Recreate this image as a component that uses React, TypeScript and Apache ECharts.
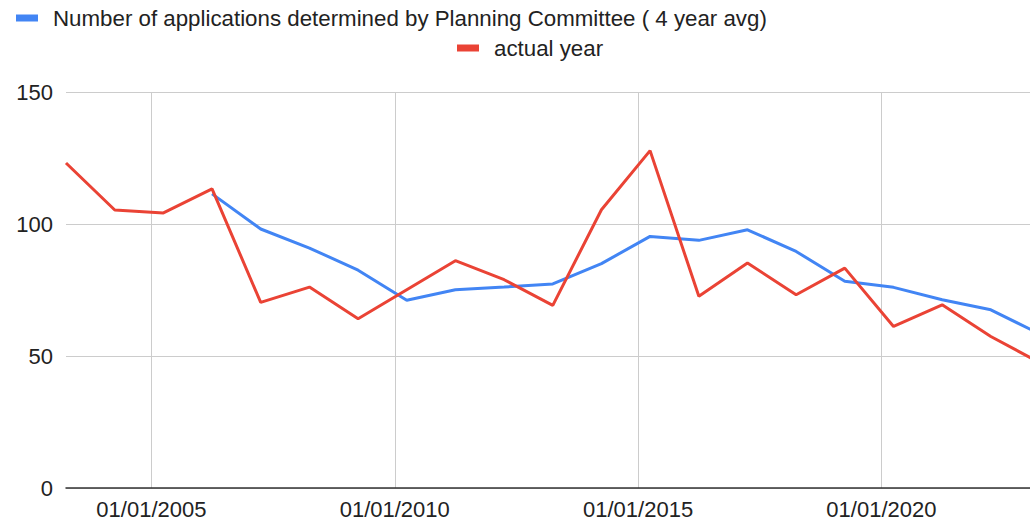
import React, { useEffect, useRef } from "react";
import * as echarts from "echarts";

const dates = [
  "2003-04-01", "2004-04-01", "2005-04-01", "2006-04-01", "2007-04-01",
  "2008-04-01", "2009-04-01", "2010-04-01", "2011-04-01", "2012-04-01",
  "2013-04-01", "2014-04-01", "2015-04-01", "2016-04-01", "2017-04-01",
  "2018-04-01", "2019-04-01", "2020-04-01", "2021-04-01", "2022-04-01",
  "2023-04-01",
];
const actualYear = [
  123.1, 105.3, 104.2, 113.3, 70.3, 76.1, 64.1, 75.1, 86.1, 78.9,
  69.2, 105.4, 127.8, 72.6, 85.2, 73.2, 83.3, 61.2, 69.4, 57.4, 47.5,
];
const fourYearAvg = [
  null, null, null, 111.4, 98.1, 90.9, 82.5, 71.1, 75.1, 76.1,
  77.3, 85.0, 95.3, 93.8, 97.8, 89.6, 78.3, 76.0, 71.3, 67.5, 58.4,
];
const yTicks = [0, 50, 100, 150];
const xTickYears = [2005, 2010, 2015, 2020];
const xRange = ["2003-04-01", "2023-01-20"];

const avgName = "Number of applications determined by Planning Committee ( 4 year avg)";
const actualName = "actual year";

function ts(s: string): number {
  const [y, m, d] = s.split("-").map(Number);
  return new Date(y, m - 1, d).getTime();
}

export default function App() {
  const ref = useRef<HTMLDivElement>(null);
  useEffect(() => {
    if (!ref.current) return;
    const chart = echarts.init(ref.current, null, { renderer: "svg" });
    const font = "Arial, 'Liberation Sans', sans-serif";
    const toPair = (arr: (number | null)[]) =>
      arr.map((v, i) => [ts(dates[i]), v]).filter((p) => p[1] !== null);
    const xTickValues = xTickYears.map((y) => new Date(y, 0, 1).getTime());
    const legendText = { fontSize: 22.3, color: "#222", fontFamily: font, padding: [0, 0, 0, 10] };
    chart.setOption({
      animation: false,
      textStyle: { fontFamily: font },
      legend: [
        {
          data: [avgName],
          left: 16,
          top: 7,
          padding: 0,
          itemWidth: 22,
          itemHeight: 7,
          icon: "rect",
          textStyle: legendText,
        },
        {
          data: [actualName],
          left: 457,
          top: 37,
          padding: 0,
          itemWidth: 22,
          itemHeight: 7,
          icon: "rect",
          textStyle: legendText,
        },
      ],
      grid: { left: 66, right: 0, top: 92, bottom: 33, containLabel: false },
      xAxis: {
        type: "value",
        min: ts(xRange[0]),
        max: ts(xRange[1]),
        axisLine: { show: true, onZero: false, lineStyle: { color: "#333", width: 1.5 } },
        axisTick: { show: false, customValues: xTickValues },
        splitLine: { show: true, lineStyle: { color: "#ccc", width: 1 } },
        axisLabel: {
          fontSize: 22,
          color: "#222",
          margin: 10,
          customValues: xTickValues,
          formatter: (val: number) => {
            const d = new Date(val);
            return `01/01/${d.getFullYear()}`;
          },
        },
      },
      yAxis: {
        type: "value",
        min: yTicks[0],
        max: yTicks[yTicks.length - 1],
        interval: 50,
        axisLine: { show: false },
        axisTick: { show: false },
        splitLine: { show: true, lineStyle: { color: "#ccc", width: 1 } },
        axisLabel: { fontSize: 22, color: "#222", margin: 13 },
      },
      series: [
        {
          name: avgName,
          type: "line",
          data: toPair(fourYearAvg),
          showSymbol: false,
          symbol: "none",
          color: "#4285F4",
          lineStyle: { width: 3, color: "#4285F4" },
          clip: true,
        },
        {
          name: actualName,
          type: "line",
          data: toPair(actualYear),
          showSymbol: false,
          symbol: "none",
          color: "#EA4335",
          lineStyle: { width: 3, color: "#EA4335" },
          clip: true,
        },
      ],
    });
    return () => chart.dispose();
  }, []);
  return (
    <div
      ref={ref}
      style={{ position: "fixed", left: 0, top: 0, width: 1030, height: 521, background: "#fff" }}
    />
  );
}
